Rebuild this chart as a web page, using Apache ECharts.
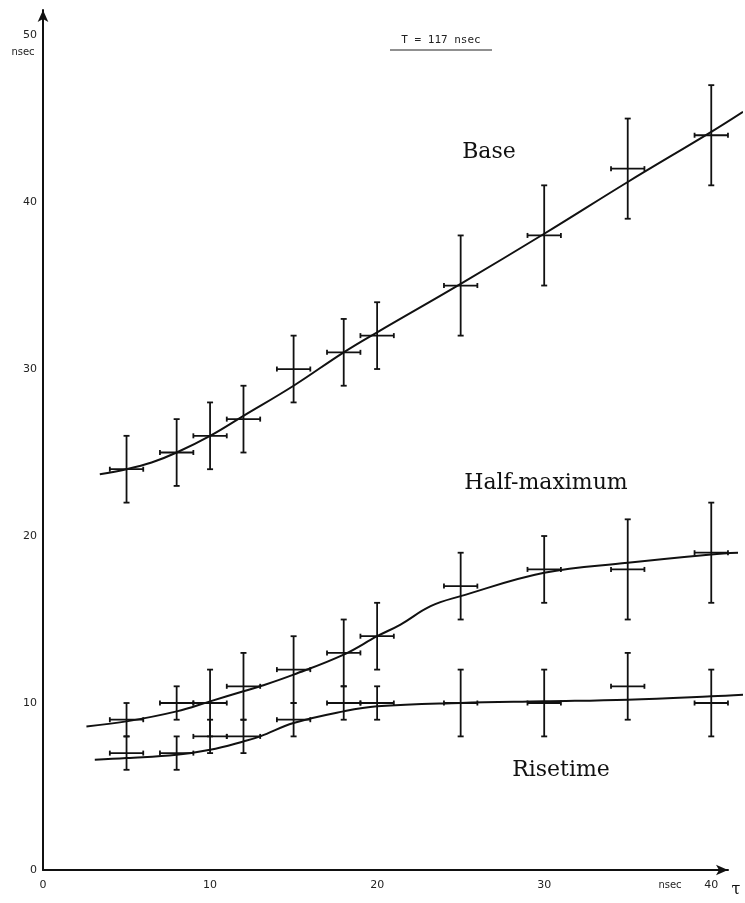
<!DOCTYPE html>
<html>
<head>
<meta charset="utf-8">
<script src="https://cdn.jsdelivr.net/npm/echarts@6/dist/echarts.min.js"></script>
<style>
  html, body { margin: 0; padding: 0; background: #fff; }
  #chart { width: 745px; height: 903px; }
</style>
</head>
<body>
<div id="chart"></div>
<script>
// delay tau (nsec) of each measurement
var tau = [5, 8, 10, 12, 15, 18, 20, 25, 30, 35, 40];

// measured times (nsec) with error bar ends
var baseY  = [24, 25, 26, 27, 30, 31, 32, 35, 38, 42, 44];
var baseLo = [22, 23, 24, 25, 28, 29, 30, 32, 35, 39, 41];
var baseHi = [26, 27, 28, 29, 32, 33, 34, 38, 41, 45, 47];

var halfY  = [9, 10, 10, 11, 12, 13, 14, 17, 18, 18, 19];
var halfLo = [8, 9, 8, 9, 10, 11, 12, 15, 16, 15, 16];
var halfHi = [10, 11, 12, 13, 14, 15, 16, 19, 20, 21, 22];

var riseY  = [7, 7, 8, 8, 9, 10, 10, 10, 10, 11, 10];
var riseLo = [6, 6, 7, 7, 8, 9, 9, 8, 8, 9, 8];
var riseHi = [8, 8, 9, 9, 10, 11, 11, 12, 12, 13, 12];

var tauErr = 1;

// hand drawn fit curves
var baseCurve = [[3.4, 23.7], [5, 24.0], [6.5, 24.4], [8, 25.0], [10, 26.0], [12, 27.2], [15, 29.0],
                 [18, 31.0], [20, 32.2], [25, 35.1], [30, 38.1], [35, 41.2], [40, 44.2], [41.9, 45.4]];
var halfCurve = [[2.6, 8.6], [5, 8.9], [8, 9.5], [10, 10.1], [12, 10.7], [13, 11.0], [15, 11.7],
                 [18, 12.9], [20, 14.0], [21.4, 14.7], [23.2, 15.8], [25, 16.4], [30, 17.8],
                 [35, 18.4], [40, 18.9], [41.6, 19.0]];
var riseCurve = [[3.1, 6.6], [5, 6.7], [8, 6.9], [10, 7.2], [12, 7.7], [13, 8.0], [15, 8.8],
                 [18, 9.5], [20, 9.8], [25, 10.0], [30, 10.1], [35, 10.2], [40, 10.4], [41.9, 10.5]];

var tickVals = [0, 10, 20, 30, 40, 50];
var xTickVals = [0, 10, 20, 30, 40];

function errRows(ys, lo, hi) {
    return tau.map(function (t, i) {
        return [t, ys[i], lo[i], hi[i], t - tauErr, t + tauErr];
    });
}

function renderErr(params, api) {
    var x = api.value(0), y = api.value(1);
    var top = api.coord([x, api.value(3)]),
        bot = api.coord([x, api.value(2)]),
        left = api.coord([api.value(4), y]),
        right = api.coord([api.value(5), y]);
    var c = 3, s = { stroke: '#111', lineWidth: 1.8 };
    function seg(x1, y1, x2, y2) {
        return { type: 'line', shape: { x1: x1, y1: y1, x2: x2, y2: y2 }, style: s };
    }
    return {
        type: 'group',
        children: [
            seg(top[0], top[1], bot[0], bot[1]),
            seg(top[0] - c, top[1], top[0] + c, top[1]),
            seg(bot[0] - c, bot[1], bot[0] + c, bot[1]),
            seg(left[0], left[1], right[0], right[1]),
            seg(left[0], left[1] - 2.5, left[0], left[1] + 2.5),
            seg(right[0], right[1] - 2.5, right[0], right[1] + 2.5)
        ]
    };
}

function curve(data) {
    return {
        type: 'line', data: data, smooth: 0.4, symbol: 'none', clip: false,
        lineStyle: { color: '#111', width: 2 }, z: 3
    };
}

function errSeries(rows) {
    return { type: 'custom', renderItem: renderErr, data: rows, clip: false, z: 4 };
}

var chart = echarts.init(document.getElementById('chart'));
var labelFont = { fontFamily: 'DejaVu Serif', fontSize: 22, fill: '#111' };
var axisColor = '#111';

chart.setOption({
    backgroundColor: '#fff',
    animation: false,
    // grid 0 holds the data (wide enough for the curve tails),
    // grid 1 only draws the shorter x axis with its arrow
    grid: [
        { left: 43, right: 3, top: 10, bottom: 33 },
        { left: 43, right: 17, top: 10, bottom: 33 }
    ],
    xAxis: [
        {
            gridIndex: 0, type: 'value', min: 0, max: 41.84, interval: 10,
            splitLine: { show: false },
            axisLine: { show: false },
            axisTick: { show: false },
            axisLabel: {
                customValues: xTickVals, color: '#222', fontFamily: 'DejaVu Sans', fontSize: 11, margin: 10
            }
        },
        {
            gridIndex: 1, type: 'value', min: 0, max: 41,
            splitLine: { show: false },
            axisLine: { lineStyle: { color: axisColor, width: 2 }, symbol: ['none', 'arrow'], symbolSize: [8, 12] },
            axisTick: { show: false },
            axisLabel: { show: false }
        }
    ],
    yAxis: [
        {
            gridIndex: 0, type: 'value', min: 0, max: 51.5, interval: 10,
            splitLine: { show: false },
            axisLine: { lineStyle: { color: axisColor, width: 2 }, symbol: ['none', 'arrow'], symbolSize: [8, 12] },
            axisTick: { show: false },
            axisLabel: {
                customValues: tickVals, color: '#222', fontFamily: 'DejaVu Sans', fontSize: 11, margin: 6
            }
        },
        { gridIndex: 1, type: 'value', min: 0, max: 51.5, show: false }
    ],
    graphic: [
        { type: 'text', x: 23, y: 52, style: { text: 'nsec', font: '10px DejaVu Sans', fill: '#222', align: 'center', verticalAlign: 'middle' } },
        { type: 'text', x: 670, y: 885, style: { text: 'nsec', font: '10px DejaVu Sans', fill: '#222', align: 'center', verticalAlign: 'middle' } },
        { type: 'text', x: 736, y: 890, style: { text: 'τ', font: '16px DejaVu Serif', fill: '#111', align: 'center', verticalAlign: 'middle' } },
        { type: 'text', x: 441, y: 40, style: { text: 'T = 117 nsec', font: '11px DejaVu Sans Mono', fill: '#222', align: 'center', verticalAlign: 'middle' } },
        { type: 'line', shape: { x1: 390, y1: 50, x2: 492, y2: 50 }, style: { stroke: '#222', lineWidth: 1.2 } },
        { type: 'text', x: 489, y: 152, style: Object.assign({ text: 'Base', align: 'center', verticalAlign: 'middle' }, labelFont) },
        { type: 'text', x: 546, y: 483, style: Object.assign({ text: 'Half-maximum', align: 'center', verticalAlign: 'middle' }, labelFont) },
        { type: 'text', x: 561, y: 770, style: Object.assign({ text: 'Risetime', align: 'center', verticalAlign: 'middle' }, labelFont) }
    ],
    series: [
        curve(baseCurve),
        curve(halfCurve),
        curve(riseCurve),
        errSeries(errRows(baseY, baseLo, baseHi)),
        errSeries(errRows(halfY, halfLo, halfHi)),
        errSeries(errRows(riseY, riseLo, riseHi))
    ]
});
</script>
</body>
</html>
